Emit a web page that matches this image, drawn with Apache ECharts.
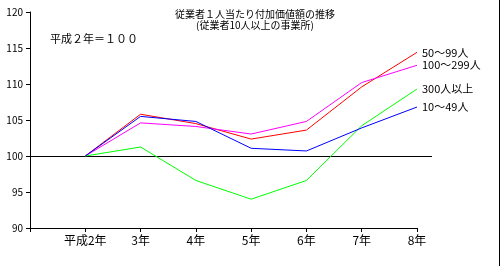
<!DOCTYPE html>
<html><head><meta charset="utf-8">
<script src="https://cdn.jsdelivr.net/npm/echarts@6/dist/echarts.min.js"></script>
<style>html,body{margin:0;padding:0;background:#fff}#c{width:499px;height:266px;border-right:1px solid #000}</style>
</head><body><div id="c"></div>
<script>
const categories = ['', '平成2年', '3年', '4年', '5年', '6年', '7年', '8年'];
const s50_99 = [null, 100, 105.8, 104.5, 102.35, 103.6, 109.6, 114.4];
const s100_299 = [null, 100, 104.6, 104.1, 103.05, 104.8, 110.2, 112.6];
const s300 = [null, 100, 101.25, 96.6, 94.0, 96.6, 104.2, 109.3];
const s10_49 = [null, 100, 105.5, 104.8, 101.07, 100.7, 103.9, 106.8];
const seriesNames = ['50～99人', '100～299人', '300人以上', '10～49人'];
const seriesColors = ['#ff0000', '#ff00ff', '#00ff00', '#0000ff'];
const baseLine = [[0, 100], [1, 100]];
const yTicks = {min: 90, max: 120, interval: 5};

const chart = echarts.init(document.getElementById('c'));
const font = '"Noto Sans CJK JP", sans-serif';
const dataSets = [s50_99, s100_299, s300, s10_49];
const lineSeries = dataSets.map((d, i) => ({
  name: seriesNames[i], type: 'line', data: d, xAxisIndex: 0, yAxisIndex: 0,
  symbol: 'none', animation: false, silent: true,
  lineStyle: {color: seriesColors[i], width: 1},
  endLabel: {show: true, formatter: seriesNames[i], color: '#000', fontSize: 11, fontFamily: font, distance: 5}
}));
lineSeries.push({
  type: 'line', data: baseLine, xAxisIndex: 1, yAxisIndex: 1, symbol: 'none',
  animation: false, silent: true, lineStyle: {color: '#000', width: 1}, z: 1
});
chart.setOption({
  backgroundColor: '#fff',
  animation: false,
  title: [
    {text: '従業者１人当たり付加価値額の推移\n(従業者10人以上の事業所)', left: 250, textAlign: 'center', top: 4,
     textStyle: {fontSize: 10, fontWeight: 'normal', color: '#000', fontFamily: font, lineHeight: 11}},
    {text: '平成２年＝１００', left: 45, top: 28,
     textStyle: {fontSize: 11, fontWeight: 'normal', color: '#000', fontFamily: font}}
  ],
  grid: [
    {left: 30, right: 82, top: 12, bottom: 38},
    {left: 30, right: 67, top: 12.5, bottom: 37.5}
  ],
  xAxis: [
    {type: 'category', data: categories, boundaryGap: false, gridIndex: 0,
     axisLine: {lineStyle: {color: '#000', width: 1}},
     axisTick: {show: true, alignWithLabel: true, length: 4, inside: false, lineStyle: {color: '#000'}},
     axisLabel: {color: '#000', fontSize: 12, fontFamily: font, margin: 6, interval: 0},
     splitLine: {show: false}},
    {type: 'value', gridIndex: 1, min: 0, max: 1, show: false}
  ],
  yAxis: [
    {type: 'value', gridIndex: 0, min: yTicks.min, max: yTicks.max, interval: yTicks.interval,
     axisLine: {show: true, lineStyle: {color: '#000', width: 1}},
     axisTick: {show: true, length: 4, lineStyle: {color: '#000'}},
     axisLabel: {color: '#000', fontSize: 10, fontFamily: font, margin: 7},
     splitLine: {show: false}},
    {type: 'value', gridIndex: 1, min: yTicks.min, max: yTicks.max, show: false}
  ],
  series: lineSeries
});
</script></body></html>
